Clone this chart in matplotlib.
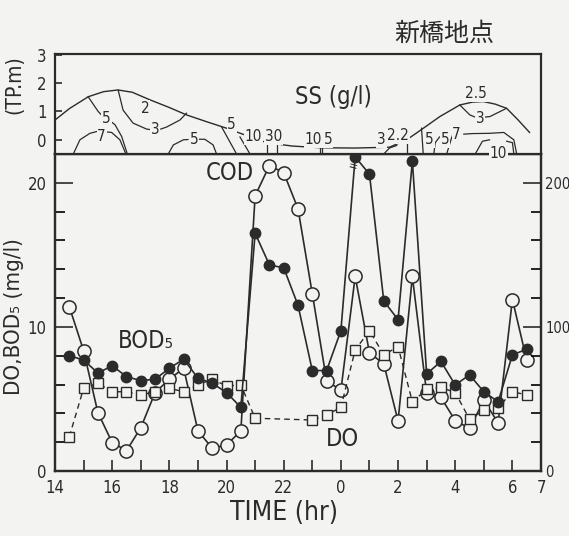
import matplotlib.pyplot as plt
from matplotlib.ticker import FixedLocator, MultipleLocator

plt.rcParams['font.family'] = ['DejaVu Sans']
plt.rcParams['font.stretch'] = 'condensed'

ink = '#2b2b2b'
bg = '#f3f3f1'

# sampling times, hours from midnight of day 1 (24 = 0 h next day)
t = [14.5, 15, 15.5, 16, 16.5, 17, 17.5, 18, 18.5, 19, 19.5, 20, 20.5,
     21, 21.5, 22, 22.5, 23, 23.5, 24, 24.5, 25, 25.5, 26, 26.5,
     27, 27.5, 28, 28.5, 29, 29.5, 30, 30.5]
cod = [11.4, 8.35, 4.05, 1.97, 1.41, 3.0, 5.44, 6.37, 7.13, 2.78, 1.58, 1.81, 2.78,
       19.1, 21.2, 20.7, 18.2, 12.3, 6.27, 5.6, 13.5, 8.2, 7.43, 3.47, 13.5,
       5.4, 5.1, 3.5, 2.95, 4.9, 3.35, 11.9, 7.7]
bod = [8.0, 7.7, 6.8, 7.3, 6.55, 6.27, 6.37, 7.13, 7.76, 6.44, 6.09, 5.44, 4.42,
       16.5, 14.3, 14.1, 11.5, 6.97, 6.97, 9.74, 21.8, 20.6, 11.8, 10.5, 21.5,
       6.74, 7.6, 5.97, 6.67, 5.5, 4.8, 8.06, 8.45]
do_t = [14.5, 15, 15.5, 16, 16.5, 17, 17.5, 18, 18.5, 19, 19.5, 20, 20.5,
        21, 23, 23.5, 24, 24.5, 25, 25.5, 26, 26.5,
        27, 27.5, 28, 28.5, 29, 29.5, 30, 30.5]
do = [2.38, 5.74, 6.09, 5.5, 5.5, 5.28, 5.5, 5.74, 5.5, 5.97, 6.37, 5.9, 5.97,
      3.66, 3.54, 3.89, 4.42, 8.4, 9.74, 8.06, 8.63, 4.8,
      5.67, 5.81, 5.44, 3.6, 4.2, 4.4, 5.5, 5.28]

# water level (TP, m) and SS isolines in the upper panel
tide_t = [14.0, 14.5, 15.16, 15.7, 16.2, 16.7, 17.3, 18.0, 18.6, 19.3, 20.0, 20.7,
          21.4, 22.3, 23.3, 24.5, 25.7, 26.3, 26.9, 27.46, 28.16, 28.6, 28.98,
          29.4, 29.8, 30.2, 30.6]
tide_lvl = [0.7, 1.1, 1.52, 1.7, 1.76, 1.68, 1.42, 1.14, 0.88, 0.64, 0.41, 0.15,
            -0.1, -0.22, -0.28, -0.29, -0.26, 0.0, 0.42, 0.82, 1.23, 1.33, 1.35,
            1.26, 1.11, 0.7, 0.26]
ss_contours = [
    ([14.64, 14.87, 15.22, 15.45], [-0.5, 0.0, 0.23, 0.29]),
    ([15.8, 15.98, 16.27, 16.48], [0.28, 0.26, 0.0, -0.5]),
    ([15.16, 15.51, 15.65], [1.52, 1.0, 0.85]),
    ([15.95, 16.10, 16.33, 16.53], [0.65, 0.53, 0.12, -0.5]),
    ([16.21, 16.38, 16.73, 17.2, 17.35], [1.75, 1.05, 0.59, 0.38, 0.36]),
    ([17.7, 17.9, 18.37, 18.6], [0.38, 0.45, 0.7, 0.94]),
    ([17.96, 18.14, 18.49, 18.65], [-0.5, -0.18, 0.0, 0.01]),
    ([19.05, 19.24, 19.53, 19.65], [0.02, 0.02, -0.18, -0.5]),
    ([19.83, 20.35], [0.45, -0.5]),
    ([20.47, 20.82], [0.1, -0.5]),
    ([21.4, 21.4], [-0.1, -0.5]),
    ([21.75, 21.75], [-0.15, -0.5]),
    ([23.27, 23.27], [-0.27, -0.5]),
    ([23.33, 23.33], [-0.27, -0.5]),
    ([25.5, 25.7, 25.95], [-0.5, -0.29, -0.2]),
    ([26.3, 26.3], [0.0, -0.5]),
    ([26.82, 26.88], [0.41, -0.5]),
    ([27.25, 27.3, 27.45], [-0.5, -0.1, 0.1]),
    ([27.7, 27.85, 27.9], [-0.5, 0.0, 0.15]),
    ([28.3, 28.6, 29.2, 29.7, 30.05, 30.15], [0.2, 0.22, 0.23, 0.26, 0.0, -0.5]),
    ([28.7, 28.95, 29.2], [-0.5, -0.05, 0.0]),
    ([29.8, 30.0, 30.05], [-0.05, -0.1, -0.5]),
    ([28.16, 28.51, 28.7], [1.23, 0.88, 0.8]),
    ([29.0, 29.21, 29.79], [0.8, 0.82, 1.11]),
]
ss_labels = [
    (15.63, 0.12, '7'), (15.8, 0.76, '5'), (17.15, 1.11, '2'), (17.5, 0.35, '3'),
    (18.86, 0.0, '5'), (20.18, 0.53, '5'), (20.93, 0.12, '10'), (21.63, 0.12, '30'),
    (23.03, 0.0, '10'), (23.56, 0.0, '5'), (25.42, 0.0, '3'), (26.0, 0.15, '2.2'),
    (27.11, 0.0, '5'), (27.64, 0.0, '5'), (28.05, 0.18, '7'), (29.5, -0.5, '10'),
    (28.86, 0.76, '3'), (28.74, 1.64, '2.5'),
]

hours = list(range(14, 32))
hour_labels = ['14', '', '16', '', '18', '', '20', '', '22', '', '0', '', '2', '',
               '4', '', '6', '7']

fig = plt.figure(figsize=(5.69, 5.36), dpi=100, facecolor=bg)

# lower panel: water quality
ax = fig.add_axes([0.0967, 0.1213, 0.8541, 0.5914], facecolor=bg)
ax.plot(t, cod, '-', color=ink, lw=1.2, marker='o', ms=9.5, mfc=bg, mec=ink,
        mew=1.1, clip_on=False, zorder=3)
ax.plot(t, bod, '-', color=ink, lw=1.2, marker='o', ms=7.5, mfc=ink, mec=ink,
        clip_on=False, zorder=4)
ax.plot(do_t, do, '--', dashes=(4, 3), color=ink, lw=1.0, marker='s', ms=7,
        mfc=bg, mec=ink, mew=1.0, clip_on=False, zorder=3)
ax.text(24.42, 21.1, '=', fontsize=9, color=ink, ha='center', va='center',
        rotation=-15)

ax.set_xlim(14, 31)
ax.set_ylim(0, 22)
ax.xaxis.set_major_locator(FixedLocator(hours))
ax.set_xticklabels(hour_labels)
ax.yaxis.set_major_locator(FixedLocator([0, 10, 20]))
ax.yaxis.set_minor_locator(MultipleLocator(2))
ax.tick_params(axis='x', direction='in', length=8, width=1.2, pad=6,
               labelsize=12, colors=ink, top=False)
ax.tick_params(axis='y', which='major', direction='in', length=13, width=1.2,
               pad=6, labelsize=12, colors=ink)
ax.tick_params(axis='y', which='minor', direction='in', length=7, width=1.2)
for s in ax.spines.values():
    s.set_linewidth(1.6)
    s.set_color(ink)

ax2 = ax.twinx()
ax2.set_ylim(0, 220)
ax2.yaxis.set_major_locator(FixedLocator([0, 100, 200]))
ax2.yaxis.set_minor_locator(MultipleLocator(20))
ax2.tick_params(axis='y', which='major', direction='in', length=13, width=1.2,
                pad=3, labelsize=10.5, colors=ink)
ax2.tick_params(axis='y', which='minor', direction='in', length=7, width=1.2)
for s in ax2.spines.values():
    s.set_linewidth(1.6)
    s.set_color(ink)

ax.text(20.13, 20.66, 'COD', fontsize=17, color=ink, ha='center', va='center')
ax.text(17.18, 9.0, 'BOD₅', fontsize=17, color=ink, ha='center', va='center')
ax.text(24.05, 2.25, 'DO', fontsize=17, color=ink, ha='center', va='center')

# upper panel: tide level and SS isolines
axt = fig.add_axes([0.0967, 0.7127, 0.8541, 0.1866], facecolor=bg)
axt.plot(tide_t, tide_lvl, color=ink, lw=1.0)
for ct, cl in ss_contours:
    axt.plot(ct, cl, color=ink, lw=0.9)
for lt, ll, lab in ss_labels:
    axt.text(lt, ll, lab, fontsize=11, color=ink, ha='center', va='center',
             bbox=dict(boxstyle='square,pad=0.05', fc=bg, ec='none'))
axt.text(23.75, 1.5, 'SS (g/l)', fontsize=17, color=ink, ha='center', va='center')
axt.set_xlim(14, 31)
axt.set_ylim(-0.5, 3.03)
axt.set_xticks([])
axt.set_yticks([0, 1, 2, 3])
axt.tick_params(axis='y', direction='in', length=5, width=1.2, pad=6,
                labelsize=12, colors=ink)
for s in axt.spines.values():
    s.set_linewidth(1.6)
    s.set_color(ink)

fig.text(0.50, 0.043, 'TIME (hr)', fontsize=19, color=ink, ha='center', va='center')
fig.text(0.024, 0.41, 'DO,BOD₅ (mg/l)', fontsize=16, color=ink, rotation=90,
         ha='center', va='center')
fig.text(0.026, 0.843, '(TP.m)', fontsize=15, color=ink, rotation=90,
         ha='center', va='center')
fig.text(0.78, 0.937, '新橋地点', fontsize=18, color=ink, ha='center', va='center',
         family=['Noto Sans CJK JP', 'DejaVu Sans'])

fig.savefig('out.png', dpi=100, facecolor=bg)
